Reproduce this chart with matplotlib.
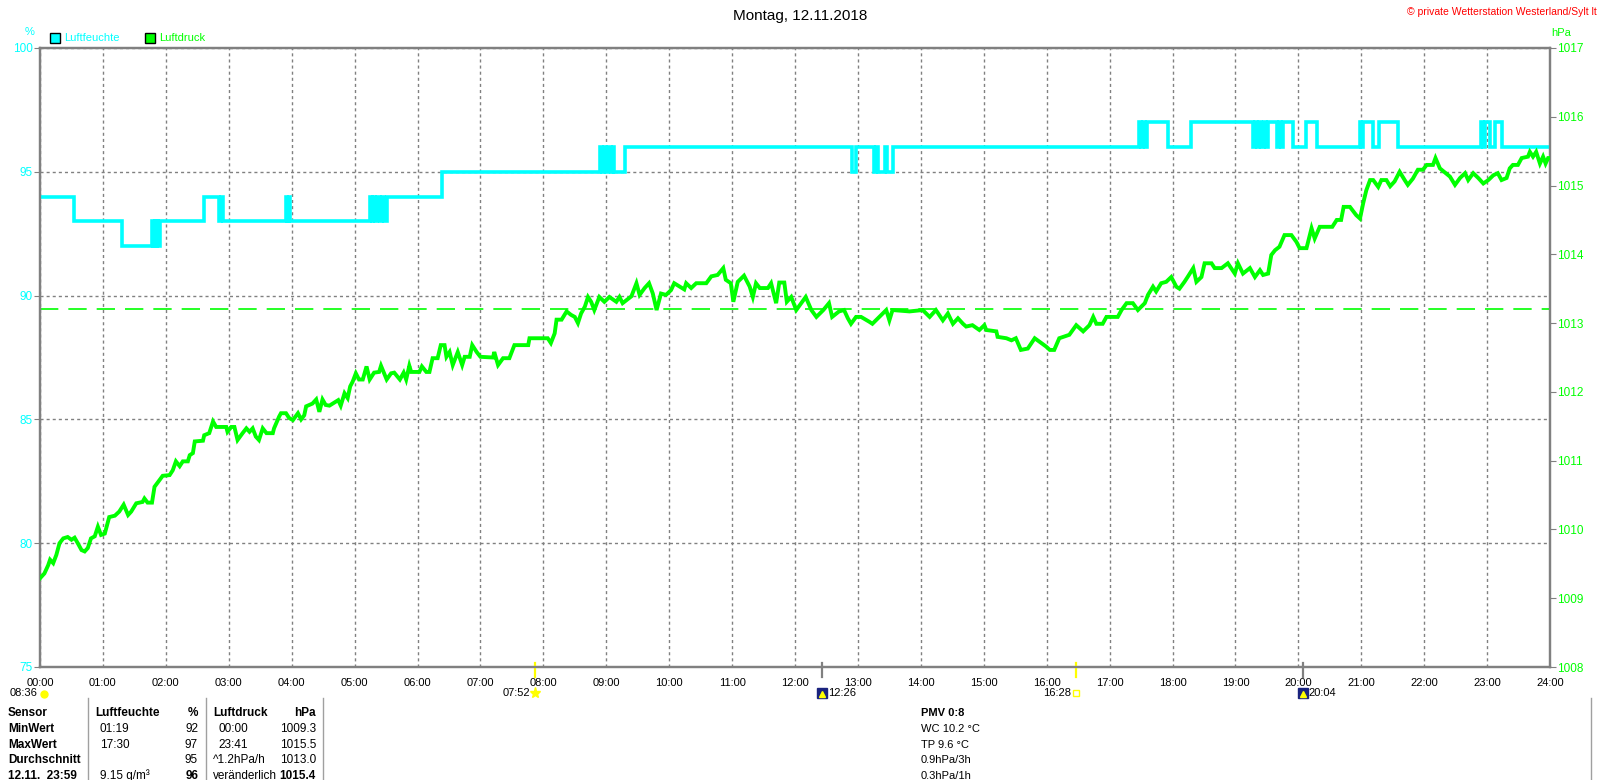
import matplotlib
matplotlib.use("Agg")
import matplotlib.pyplot as plt
import matplotlib.transforms as mtransforms
from matplotlib.patches import Rectangle
from matplotlib.lines import Line2D

plt.rcParams['font.family'] = ['Liberation Sans', 'DejaVu Sans']

# ---------------- data ----------------
title = "Montag, 12.11.2018"
copyright_text = "\u00a9 private Wetterstation Westerland/Sylt lt"

hour_ticks = list(range(0, 25))
hour_labels = ["%02d:00" % h for h in hour_ticks]

hum_ticks = [75, 80, 85, 90, 95, 100]
pres_ticks = [1008, 1009, 1010, 1011, 1012, 1013, 1014, 1015, 1016, 1017]

# relative humidity (%), step changes (hour, value)
hum_hours = [0.00, 0.54, 1.30, 1.78, 1.80, 1.82, 1.84, 1.86, 1.88, 1.91,
             2.61, 2.85, 2.87, 2.91, 3.91, 3.93, 3.95, 3.97,
             5.24, 5.27, 5.30, 5.33, 5.36, 5.40, 5.44, 5.47, 5.52,
             6.39, 8.90, 8.93, 8.96, 9.00, 9.03, 9.07, 9.10, 9.13, 9.30,
             12.91, 12.97, 13.25, 13.29, 13.32, 13.43, 13.47, 13.55,
             17.47, 17.50, 17.53, 17.56, 17.59, 17.93, 18.29,
             19.28, 19.31, 19.34, 19.37, 19.40, 19.45, 19.48, 19.52,
             19.66, 19.70, 19.73, 19.76, 19.92, 20.12, 20.30,
             20.98, 21.00, 21.03, 21.19, 21.29, 21.59,
             22.91, 22.93, 22.96, 23.04, 23.12, 23.23, 24.00]
hum_values = [94, 93, 92, 93, 92, 93, 92, 93, 92, 93,
              94, 93, 94, 93, 94, 93, 94, 93,
              94, 93, 94, 93, 94, 93, 94, 93, 94,
              95, 96, 95, 96, 95, 96, 95, 96, 95, 96,
              95, 96, 95, 96, 95, 96, 95, 96,
              97, 96, 97, 96, 97, 96, 97,
              96, 97, 96, 97, 96, 97, 96, 97,
              96, 97, 96, 97, 96, 97, 96,
              97, 96, 97, 96, 97, 96,
              97, 96, 97, 96, 97, 96, 96]

# air pressure (hPa)
pres_hours = [0.00, 0.07, 0.13, 0.16, 0.21, 0.26, 0.31, 0.37, 0.44, 0.50,
              0.55, 0.60, 0.66, 0.71, 0.76, 0.81, 0.87, 0.92, 0.97, 1.03,
              1.10, 1.19, 1.26, 1.33, 1.40, 1.45, 1.53, 1.63, 1.66, 1.71,
              1.78, 1.82, 1.90, 1.95, 2.06, 2.11, 2.16, 2.22, 2.27, 2.35,
              2.38, 2.43, 2.46, 2.59, 2.61, 2.69, 2.75, 2.80, 2.96, 2.98,
              3.04, 3.09, 3.14, 3.22, 3.28, 3.33, 3.38, 3.43, 3.48, 3.54,
              3.60, 3.70, 3.72, 3.80, 3.83, 3.91, 3.96, 4.02, 4.10, 4.15,
              4.20, 4.23, 4.33, 4.39, 4.44, 4.49, 4.54,
              4.60, 4.74, 4.78, 4.84, 4.89, 4.93, 4.97, 5.02, 5.07, 5.13,
              5.19, 5.24, 5.31, 5.39, 5.42, 5.47, 5.51, 5.58, 5.63, 5.72,
              5.78, 5.82, 5.87, 5.90, 6.03, 6.07, 6.14, 6.19, 6.24, 6.32,
              6.37, 6.43, 6.46, 6.51, 6.56, 6.64, 6.71, 6.75, 6.83, 6.87,
              6.94, 7.00, 7.20, 7.22, 7.28, 7.36, 7.46,
              7.54, 7.76, 7.78, 8.07, 8.12, 8.18, 8.21, 8.29, 8.37, 8.44,
              8.50, 8.55, 8.60, 8.66, 8.71, 8.76, 8.81, 8.89, 8.97, 9.05,
              9.16, 9.21, 9.26, 9.40, 9.48, 9.53, 9.61, 9.68, 9.74, 9.80,
              9.87, 9.95, 10.03, 10.08, 10.24, 10.27, 10.35, 10.43, 10.59, 10.67,
              10.77, 10.86, 10.90, 10.98, 11.02, 11.09, 11.19, 11.28, 11.33, 11.38,
              11.44, 11.57, 11.62, 11.70, 11.75, 11.83, 11.87, 11.94, 12.02, 12.10,
              12.17, 12.26, 12.34, 12.45,
              12.54, 12.59, 12.70, 12.78, 12.84, 12.89, 12.97, 13.05, 13.18, 13.23,
              13.34, 13.45, 13.50, 13.55, 13.82, 14.03, 14.14, 14.24, 14.35, 14.43,
              14.51, 14.59, 14.67, 14.72, 14.82, 14.93, 15.01, 15.04, 15.20, 15.22,
              15.36, 15.44, 15.51, 15.59, 15.70, 15.81, 15.99, 16.05, 16.12, 16.20,
              16.36, 16.47, 16.58, 16.68, 16.74, 16.79, 16.89, 16.95, 17.13, 17.19,
              17.27, 17.37, 17.45, 17.56, 17.61, 17.69, 17.74, 17.82, 17.90, 17.98,
              18.06, 18.11, 18.19, 18.24, 18.33, 18.38, 18.46, 18.51, 18.62, 18.67,
              18.78, 18.88, 18.99, 19.04, 19.12, 19.23,
              19.31, 19.39, 19.44, 19.52, 19.57, 19.63, 19.70, 19.78, 19.89, 19.97,
              20.02, 20.13, 20.21, 20.26, 20.34, 20.54, 20.61, 20.68, 20.72, 20.82,
              20.92, 20.98, 21.03, 21.08, 21.14, 21.19, 21.27, 21.32, 21.40, 21.46,
              21.53, 21.61, 21.69, 21.74, 21.82, 21.90, 21.98, 22.04, 22.14, 22.18,
              22.25, 22.41, 22.49, 22.57, 22.65, 22.70, 22.78, 22.86, 22.94, 23.02,
              23.10, 23.17, 23.23, 23.31, 23.36, 23.41, 23.49, 23.55, 23.65, 23.68,
              23.73, 23.78, 23.84, 23.89, 23.93, 23.97, 24.00]
pres_values = [1009.29, 1009.36, 1009.48, 1009.56, 1009.51, 1009.63, 1009.80, 1009.87, 1009.89, 1009.85,
               1009.88, 1009.80, 1009.70, 1009.68, 1009.73, 1009.87, 1009.90, 1010.04, 1009.92, 1009.94,
               1010.18, 1010.20, 1010.26, 1010.36, 1010.21, 1010.26, 1010.38, 1010.40, 1010.45, 1010.39,
               1010.39, 1010.62, 1010.72, 1010.78, 1010.79, 1010.86, 1010.99, 1010.92, 1010.99, 1010.99,
               1011.08, 1011.11, 1011.28, 1011.29, 1011.37, 1011.40, 1011.57, 1011.49, 1011.49, 1011.42,
               1011.49, 1011.49, 1011.30, 1011.40, 1011.47, 1011.42, 1011.47, 1011.35, 1011.30, 1011.47,
               1011.40, 1011.40, 1011.47, 1011.64, 1011.69, 1011.69, 1011.62, 1011.59, 1011.69, 1011.60,
               1011.66, 1011.79, 1011.83, 1011.89, 1011.71, 1011.89, 1011.81,
               1011.80, 1011.88, 1011.80, 1011.98, 1011.91, 1012.08, 1012.15, 1012.27, 1012.18, 1012.18,
               1012.37, 1012.18, 1012.28, 1012.29, 1012.38, 1012.27, 1012.18, 1012.27, 1012.28, 1012.18,
               1012.28, 1012.18, 1012.38, 1012.29, 1012.29, 1012.37, 1012.29, 1012.29, 1012.49, 1012.49,
               1012.68, 1012.68, 1012.51, 1012.58, 1012.39, 1012.58, 1012.39, 1012.51, 1012.51, 1012.68,
               1012.58, 1012.51, 1012.50, 1012.58, 1012.39, 1012.49, 1012.49,
               1012.68, 1012.68, 1012.78, 1012.78, 1012.71, 1012.85, 1013.05, 1013.05, 1013.17, 1013.12,
               1013.09, 1013.00, 1013.14, 1013.24, 1013.38, 1013.31, 1013.19, 1013.38, 1013.31, 1013.38,
               1013.31, 1013.38, 1013.29, 1013.39, 1013.58, 1013.41, 1013.51, 1013.58, 1013.43, 1013.19,
               1013.43, 1013.41, 1013.48, 1013.58, 1013.49, 1013.58, 1013.51, 1013.58, 1013.58, 1013.68,
               1013.70, 1013.80, 1013.63, 1013.58, 1013.31, 1013.60, 1013.69, 1013.53, 1013.38, 1013.58,
               1013.51, 1013.51, 1013.58, 1013.29, 1013.59, 1013.59, 1013.31, 1013.38, 1013.19, 1013.29,
               1013.38, 1013.19, 1013.09, 1013.19,
               1013.29, 1013.09, 1013.17, 1013.19, 1013.07, 1012.99, 1013.09, 1013.09, 1013.02, 1012.99,
               1013.09, 1013.19, 1013.04, 1013.19, 1013.17, 1013.19, 1013.09, 1013.19, 1013.04, 1013.14,
               1012.99, 1013.07, 1012.99, 1012.95, 1012.97, 1012.90, 1012.97, 1012.90, 1012.88, 1012.80,
               1012.78, 1012.75, 1012.78, 1012.61, 1012.63, 1012.78, 1012.66, 1012.61, 1012.61, 1012.78,
               1012.83, 1012.97, 1012.88, 1012.97, 1013.09, 1012.99, 1012.99, 1013.09, 1013.09, 1013.19,
               1013.29, 1013.29, 1013.19, 1013.29, 1013.41, 1013.53, 1013.46, 1013.58, 1013.60, 1013.67,
               1013.53, 1013.50, 1013.60, 1013.67, 1013.80, 1013.60, 1013.67, 1013.87, 1013.87, 1013.80,
               1013.80, 1013.87, 1013.72, 1013.87, 1013.72, 1013.80,
               1013.67, 1013.77, 1013.70, 1013.72, 1013.99, 1014.06, 1014.11, 1014.28, 1014.28, 1014.18,
               1014.09, 1014.09, 1014.38, 1014.23, 1014.40, 1014.40, 1014.50, 1014.50, 1014.69, 1014.69,
               1014.57, 1014.52, 1014.74, 1014.93, 1015.08, 1015.08, 1014.98, 1015.08, 1015.08, 1014.99,
               1015.06, 1015.20, 1015.08, 1015.01, 1015.10, 1015.23, 1015.23, 1015.30, 1015.30, 1015.40,
               1015.25, 1015.13, 1015.01, 1015.11, 1015.18, 1015.08, 1015.18, 1015.11, 1015.03, 1015.08,
               1015.15, 1015.18, 1015.08, 1015.11, 1015.25, 1015.30, 1015.30, 1015.40, 1015.42, 1015.49,
               1015.42, 1015.49, 1015.32, 1015.42, 1015.32, 1015.40, 1015.40]
pres_mean_line = 1013.2

# sun / moon events below the time axis
event_labels = ["07:52", "12:26", "16:28", "20:04"]
event_hours = [7.867, 12.433, 16.467, 20.067]
day_length = "08:36"

# statistics table
table_rows = [
    ["Sensor", "Luftfeuchte", "%", "Luftdruck", "hPa"],
    ["MinWert", "01:19", "92", "00:00", "1009.3"],
    ["MaxWert", "17:30", "97", "23:41", "1015.5"],
    ["Durchschnitt", "", "95", "^1.2hPa/h", "1013.0"],
    ["12.11.  23:59", "9.15 g/m\u00b3", "96", "ver\u00e4nderlich", "1015.4"],
]
pmv_lines = ["PMV 0:8", "WC 10.2 \u00b0C", "TP 9.6 \u00b0C", "0.9hPa/3h", "0.3hPa/1h"]

# ---------------- figure ----------------
W, H = 1600, 780
fig = plt.figure(figsize=(W / 100, H / 100), dpi=100)
fig.patch.set_facecolor("white")


def fx(px):
    return px / W


def fy(py):
    return 1 - py / H


CYAN = "#00FFFF"
GREEN = "#00FF00"
GRAY = "#808080"

ax_l, ax_r, ax_t, ax_b = 40, 1550, 48, 667
ax = fig.add_axes([fx(ax_l), fy(ax_b), (ax_r - ax_l) / W, (ax_b - ax_t) / H])
ax2 = ax.twinx()

ax.set_xlim(0, 24)
ax.set_ylim(75, 100)
ax2.set_ylim(1008, 1017)

for a in (ax, ax2):
    for s in a.spines.values():
        s.set_color(GRAY)
        s.set_linewidth(1.6)

ax.set_xticks(hour_ticks)
ax.set_xticklabels(hour_labels, fontsize=8, color="black")
ax.tick_params(axis="x", length=0, pad=8)
ax.set_yticks(hum_ticks)
ax.set_yticklabels([str(v) for v in hum_ticks], fontsize=8.5, color=CYAN)
ax.tick_params(axis="y", length=4, color=GRAY, pad=1)
ax2.set_yticks(pres_ticks)
ax2.set_yticklabels([str(v) for v in pres_ticks], fontsize=8.5, color=GREEN)
ax2.tick_params(axis="y", length=4, color=GRAY, pad=1)

ax.grid(True, color=GRAY, linestyle=(0, (2.2, 2.2)), linewidth=1.0)
ax.set_axisbelow(True)

ax.plot(hum_hours, hum_values, drawstyle="steps-post", color=CYAN, linewidth=2.6,
        solid_joinstyle="miter", zorder=3)
ax2.axhline(pres_mean_line, color=GREEN, linewidth=1.2, linestyle=(0, (11, 6)), zorder=2)
ax2.plot(pres_hours, pres_values, color=GREEN, linewidth=2.8,
         solid_joinstyle="miter", zorder=3)

# event ticks on the time axis
trans = mtransforms.blended_transform_factory(ax.transData, ax.transAxes)
event_tick_colors = ["#FFFF00", GRAY, "#FFFF00", GRAY]
for h, c in zip(event_hours, event_tick_colors):
    ax.plot([h, h], [-0.016, 0.007], transform=trans, color=c, linewidth=1.6,
            clip_on=False, zorder=5)

# ---------------- texts ----------------
fig.text(fx(800), fy(16), title, ha="center", va="center", fontsize=11, color="black")
fig.text(fx(1597), fy(12), copyright_text, ha="right", va="center", fontsize=7.5, color="#FF0000")
fig.text(fx(30), fy(32), "%", ha="center", va="center", fontsize=8, color=CYAN)
fig.text(fx(1551), fy(33), "hPa", ha="left", va="center", fontsize=8, color=GREEN)

# legend
fig.add_artist(Rectangle((fx(50), fy(43)), 10 / W, 10 / H, transform=fig.transFigure,
                         facecolor=CYAN, edgecolor="black", linewidth=1))
fig.text(fx(64), fy(38), "Luftfeuchte", ha="left", va="center", fontsize=8, color=CYAN)
fig.add_artist(Rectangle((fx(145), fy(43)), 10 / W, 10 / H, transform=fig.transFigure,
                         facecolor=GREEN, edgecolor="black", linewidth=1))
fig.text(fx(159), fy(38), "Luftdruck", ha="left", va="center", fontsize=8, color=GREEN)

# events row
row_y = 693
fig.text(fx(37), fy(row_y), day_length, ha="right", va="center", fontsize=8)
fig.add_artist(Line2D([fx(44)], [fy(row_y + 1)], transform=fig.transFigure, marker="o",
                      markersize=5, color="#FFFF00", linestyle="none"))


def px_of_hour(h):
    return ax_l + (ax_r - ax_l) * h / 24.0


for i, (lab, h) in enumerate(zip(event_labels, event_hours)):
    xp = px_of_hour(h)
    if i in (0, 2):
        fig.text(fx(xp - 5), fy(row_y), lab, ha="right", va="center", fontsize=8)
        if i == 0:
            fig.add_artist(Line2D([fx(xp)], [fy(row_y)], transform=fig.transFigure, marker="*",
                                  markersize=8, color="#FFFF00", linestyle="none"))
        else:
            fig.add_artist(Line2D([fx(xp)], [fy(row_y)], transform=fig.transFigure, marker="s",
                                  markersize=4.5, markerfacecolor="white",
                                  markeredgecolor="#FFFF00", linestyle="none"))
    else:
        fig.add_artist(Rectangle((fx(xp - 5), fy(row_y + 5)), 10 / W, 10 / H,
                                 transform=fig.transFigure, facecolor="#1a237e",
                                 edgecolor="#1a237e"))
        fig.add_artist(Line2D([fx(xp)], [fy(row_y + 1)], transform=fig.transFigure,
                              marker="^", markersize=4, color="#FFFF00", linestyle="none"))
        fig.text(fx(xp + 6), fy(row_y), lab, ha="left", va="center", fontsize=8)

# statistics table
row_ys = [712.7, 729, 744.7, 760.3, 776]
for r, (row, yy) in enumerate(zip(table_rows, row_ys)):
    head = r == 0
    last = r == len(table_rows) - 1
    fig.text(fx(8), fy(yy), row[0], ha="left", va="center", fontsize=8.5, fontweight="bold")
    fig.text(fx(95 if head else 100), fy(yy), row[1], ha="left", va="center", fontsize=8.5,
             fontweight="bold" if head else "normal")
    fig.text(fx(198), fy(yy), row[2], ha="right", va="center", fontsize=8.5,
             fontweight="bold" if (head or last) else "normal")
    fig.text(fx(213 if (head or r >= 3) else 218), fy(yy), row[3], ha="left", va="center",
             fontsize=8.5, fontweight="bold" if head else "normal")
    fig.text(fx(316), fy(yy), row[4], ha="right", va="center", fontsize=8.5,
             fontweight="bold" if (head or last) else "normal")

for xs in (88, 205.7, 323.3, 1591):
    fig.add_artist(Line2D([fx(xs), fx(xs)], [fy(698), fy(780)], transform=fig.transFigure,
                          color="#A0A0A0", linewidth=1))

for i, (line, yy) in enumerate(zip(pmv_lines, row_ys)):
    fig.text(fx(921), fy(yy), line, ha="left", va="center", fontsize=8,
             fontweight="bold" if i == 0 else "normal")

fig.savefig("out.png", dpi=100, facecolor="white")
